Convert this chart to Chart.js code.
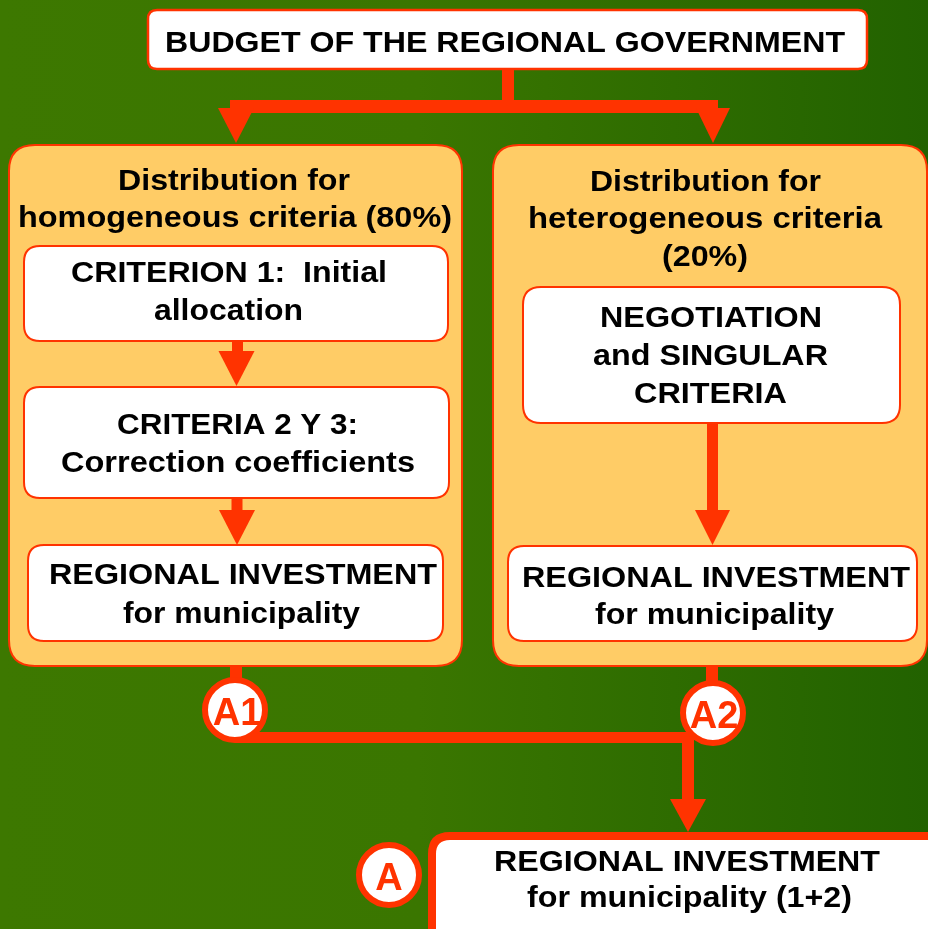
<!DOCTYPE html>
<html>
<head>
<meta charset="utf-8">
<script src="https://cdn.jsdelivr.net/npm/chart.js@4/dist/chart.umd.min.js"></script>
<style>
  html, body { margin: 0; padding: 0; background: #2f6d00; }
  #wrap { width: 928px; height: 929px; position: relative; }
</style>
</head>
<body>
<div id="wrap"><canvas id="flow"></canvas></div>
<script>
// texts of the diagram
const topLines = ['BUDGET OF THE REGIONAL GOVERNMENT'];
const leftTitle = ['Distribution for', 'homogeneous criteria (80%)'];
const rightTitle = ['Distribution for', 'heterogeneous criteria', '(20%)'];
const step1 = ['CRITERION 1:  Initial', 'allocation'];
const step2 = ['CRITERIA 2 Y 3:', 'Correction coefficients'];
const step3L = ['REGIONAL INVESTMENT', 'for municipality'];
const stepNeg = ['NEGOTIATION', 'and SINGULAR', 'CRITERIA'];
const step3R = ['REGIONAL INVESTMENT', 'for municipality'];
const finalLines = ['REGIONAL INVESTMENT', 'for municipality (1+2)'];
const markers = ['A1', 'A2', 'A'];

const RED = '#ff3300';

// layout in scale units (x 0..928, y 0..929 top-down)
const boxes = [
  { x: 148, y: 10, w: 719, h: 59, r: 9, fill: '#ffffff', lw: 2.5 },
  { x: 9, y: 145, w: 453, h: 521, r: 26, fill: '#ffcc66', lw: 2 },
  { x: 493, y: 145, w: 434, h: 521, r: 26, fill: '#ffcc66', lw: 2 },
  { x: 24, y: 246, w: 424, h: 95, r: 16, fill: '#ffffff', lw: 2 },
  { x: 24, y: 387, w: 425, h: 111, r: 16, fill: '#ffffff', lw: 2 },
  { x: 28, y: 545, w: 415, h: 96, r: 16, fill: '#ffffff', lw: 2 },
  { x: 523, y: 287, w: 377, h: 136, r: 18, fill: '#ffffff', lw: 2 },
  { x: 508, y: 546, w: 409, h: 95, r: 16, fill: '#ffffff', lw: 2 }
];
const finalBox = { x: 432, y: 836, w: 520, h: 120, r: 18, fill: '#ffffff', lw: 8 };

// connector segments [x1, y1, x2, y2, width]
const linesBack = [
  [508, 69, 508, 107, 12],
  [230, 106.5, 718, 106.5, 13]
];
const linesFront = [
  [237.5, 341, 237.5, 352, 11],
  [237, 498, 237, 511, 11],
  [712.5, 423, 712.5, 511, 11],
  [236, 666, 236, 690, 12],
  [712, 666, 712, 690, 12],
  [235, 737.5, 694, 737.5, 11],
  [688, 732, 688, 800, 12]
];
// arrow heads [tipX, baseY, tipY, halfWidth]
const headsBack = [[236, 108, 143, 18], [713, 108, 143, 17]];
const headsFront = [
  [236.5, 351, 386, 18],
  [237, 510, 545, 18],
  [712.5, 510, 545, 17.5],
  [688, 799, 832, 18]
];
const circles = [
  { x: 235, y: 710, tx: 237, ty: 725 },
  { x: 713, y: 713, tx: 714, ty: 728 },
  { x: 389, y: 875, tx: 389, ty: 890 }
];

// text slots: lines, centre x, baselines, fitted widths, font size
const textSlots = [
  { lines: topLines, cx: [505], by: [52], w: [680], size: 30 },
  { lines: leftTitle, cx: [234, 235], by: [190, 227], w: [232, 434], size: 30 },
  { lines: rightTitle, cx: [705.5, 705, 705], by: [191, 228, 266], w: [231, 354, 86], size: 30 },
  { lines: step1, cx: [229, 228.5], by: [282, 320], w: [316, 149], size: 29 },
  { lines: step2, cx: [237.5, 238], by: [434, 472], w: [241, 354], size: 29 },
  { lines: step3L, cx: [243, 241.5], by: [584, 623], w: [388, 237], size: 29 },
  { lines: stepNeg, cx: [711, 710.5, 710.5], by: [327, 365, 403], w: [222, 235, 153], size: 29 },
  { lines: step3R, cx: [716, 714.5], by: [587, 624], w: [388, 239], size: 29 },
  { lines: finalLines, cx: [687, 689.5], by: [871, 907], w: [386, 325], size: 29 }
];

function roundRect(ctx, x, y, w, h, r) {
  ctx.beginPath();
  ctx.moveTo(x + r, y);
  ctx.lineTo(x + w - r, y);
  ctx.quadraticCurveTo(x + w, y, x + w, y + r);
  ctx.lineTo(x + w, y + h - r);
  ctx.quadraticCurveTo(x + w, y + h, x + w - r, y + h);
  ctx.lineTo(x + r, y + h);
  ctx.quadraticCurveTo(x, y + h, x, y + h - r);
  ctx.lineTo(x, y + r);
  ctx.quadraticCurveTo(x, y, x + r, y);
  ctx.closePath();
}

const flowPlugin = {
  id: 'flow',
  beforeDraw(chart) {
    const ctx = chart.ctx;
    const g = ctx.createLinearGradient(0, 0, chart.width, 0);
    g.addColorStop(0, '#3d7800');
    g.addColorStop(0.45, '#3a7600');
    g.addColorStop(1, '#226200');
    ctx.save();
    ctx.fillStyle = g;
    ctx.fillRect(0, 0, chart.width, chart.height);
    ctx.restore();
  },
  afterDraw(chart) {
    const ctx = chart.ctx;
    const xs = chart.scales.x, ys = chart.scales.y;
    const X = v => xs.getPixelForValue(v);
    const Y = v => ys.getPixelForValue(v);
    const k = X(1) - X(0);

    function drawBox(b) {
      roundRect(ctx, X(b.x), Y(b.y), X(b.x + b.w) - X(b.x), Y(b.y + b.h) - Y(b.y), b.r * k);
      ctx.fillStyle = b.fill;
      ctx.fill();
      ctx.lineWidth = b.lw * k;
      ctx.strokeStyle = RED;
      ctx.stroke();
    }
    function drawLines(list) {
      ctx.fillStyle = RED;
      list.forEach(([x1, y1, x2, y2, w]) => {
        if (x1 === x2) ctx.fillRect(X(x1) - w * k / 2, Y(y1), w * k, Y(y2) - Y(y1));
        else ctx.fillRect(X(x1), Y(y1) - w * k / 2, X(x2) - X(x1), w * k);
      });
    }
    function drawHeads(list) {
      ctx.fillStyle = RED;
      list.forEach(([tx, by, ty, hw]) => {
        ctx.beginPath();
        ctx.moveTo(X(tx - hw), Y(by));
        ctx.lineTo(X(tx + hw), Y(by));
        ctx.lineTo(X(tx), Y(ty));
        ctx.closePath();
        ctx.fill();
      });
    }
    function fitText(str, cx, by, w, size, color) {
      ctx.font = `bold ${size * k}px "Liberation Sans", Arial, sans-serif`;
      const w0 = ctx.measureText(str).width;
      const sx = (w * k) / w0;
      ctx.save();
      ctx.translate(X(cx), Y(by));
      ctx.scale(sx, 1);
      ctx.textAlign = 'center';
      ctx.textBaseline = 'alphabetic';
      ctx.fillStyle = color;
      ctx.fillText(str, 0, 0);
      ctx.restore();
    }

    ctx.save();
    drawLines(linesBack);
    drawHeads(headsBack);
    boxes.forEach(drawBox);
    drawLines(linesFront);
    drawHeads(headsFront);
    drawBox(finalBox);

    circles.forEach((c, i) => {
      ctx.beginPath();
      ctx.arc(X(c.x), Y(c.y), 30 * k, 0, Math.PI * 2);
      ctx.fillStyle = '#ffffff';
      ctx.fill();
      ctx.lineWidth = 6 * k;
      ctx.strokeStyle = RED;
      ctx.stroke();
      ctx.font = `bold ${38 * k}px "Liberation Sans", Arial, sans-serif`;
      ctx.textAlign = 'center';
      ctx.textBaseline = 'alphabetic';
      ctx.fillStyle = RED;
      ctx.fillText(markers[i], X(c.tx), Y(c.ty));
    });

    textSlots.forEach(s => {
      s.lines.forEach((line, i) => fitText(line, s.cx[i], s.by[i], s.w[i], s.size, '#000000'));
    });
    ctx.restore();
  }
};

new Chart(document.getElementById('flow'), {
  type: 'scatter',
  data: { datasets: [{ data: [], pointRadius: 0 }] },
  options: {
    responsive: true,
    maintainAspectRatio: false,
    animation: false,
    layout: { padding: 0 },
    plugins: { legend: { display: false }, tooltip: { enabled: false } },
    scales: {
      x: { type: 'linear', min: 0, max: 928, display: false },
      y: { type: 'linear', min: 0, max: 929, reverse: true, display: false }
    }
  },
  plugins: [flowPlugin]
});
</script>
</body>
</html>
